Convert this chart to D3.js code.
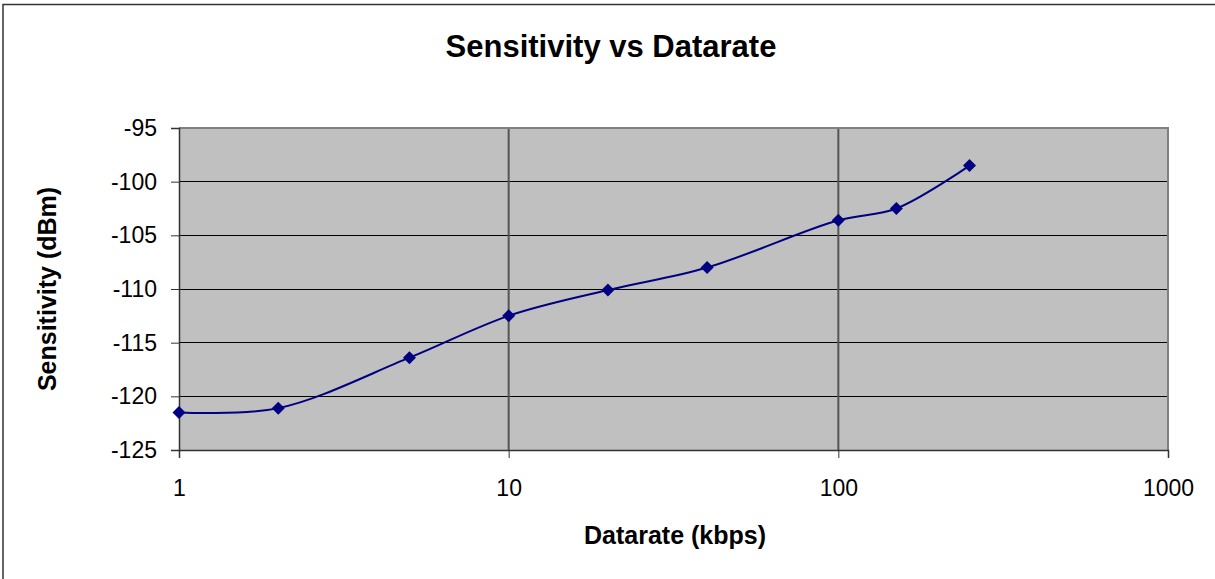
<!DOCTYPE html>
<html lang="en">
<head>
  <meta charset="utf-8">
  <title>Sensitivity vs Datarate</title>
  <script src="https://d3js.org/d3.v7.min.js"></script>
  <style>
    body { margin: 0; background: #fff; }
    svg text { font-family: "Liberation Sans", Arial, sans-serif; fill: #000; }
  </style>
</head>
<body>
  <script>
    // Data
    const datarates = [1, 2, 5, 10, 20, 40, 100, 150, 250];
    const sensitivity = [-121.5, -121.1, -116.4, -112.5, -110.1, -108.0, -103.6, -102.5, -98.5];
    const xTicks = [1, 10, 100, 1000];
    const yTicks = [-95, -100, -105, -110, -115, -120, -125];

    const W = 1215, H = 579;
    const plot = { left: 179, top: 128, right: 1168, bottom: 450 };

    const svg = d3.select("body").append("svg")
      .attr("width", W)
      .attr("height", H);

    // outer frame (only top/left visible in the picture)
    svg.append("path")
      .attr("d", `M3,${H} V4.5 H${W}`)
      .attr("fill", "none")
      .attr("stroke", "#333")
      .attr("stroke-width", 1.5);

    var x = d3.scaleLog()
      .domain([1, 1000])
      .range([plot.left, plot.right]);
    var y = d3.scaleLinear()
      .domain([-125, -95])
      .range([plot.bottom, plot.top]);

    // plot background
    svg.append("rect")
      .attr("x", plot.left)
      .attr("y", plot.top)
      .attr("width", plot.right - plot.left)
      .attr("height", plot.bottom - plot.top)
      .attr("fill", "#c0c0c0");

    // horizontal gridlines
    svg.selectAll(".hgrid")
      .data(yTicks.filter(d => d !== -95 && d !== -125))
      .enter().append("line")
      .attr("x1", plot.left).attr("x2", plot.right)
      .attr("y1", d => y(d)).attr("y2", d => y(d))
      .attr("stroke", "#000")
      .attr("stroke-width", 1)
      .attr("shape-rendering", "crispEdges");

    // vertical gridlines
    svg.selectAll(".vgrid")
      .data([10, 100])
      .enter().append("line")
      .attr("x1", d => x(d)).attr("x2", d => x(d))
      .attr("y1", plot.top).attr("y2", plot.bottom)
      .attr("stroke", "#555")
      .attr("stroke-width", 2);

    // plot border (top and right gray)
    svg.append("path")
      .attr("d", `M${plot.left},${plot.top} H${plot.right} V${plot.bottom}`)
      .attr("fill", "none")
      .attr("stroke", "#808080")
      .attr("stroke-width", 2);

    // Y axis
    var yAxis = svg.append("g")
      .attr("transform", `translate(${plot.left},0)`)
      .call(d3.axisLeft(y).tickValues(yTicks).tickSize(8).tickPadding(14).tickFormat(d => String(d)));
    yAxis.select(".domain").attr("stroke", "#333").attr("stroke-width", 1.5);
    yAxis.selectAll(".tick line").attr("stroke", "#333");
    yAxis.selectAll("text")
      .attr("font-size", 23)
      .attr("font-family", "Liberation Sans, Arial, sans-serif")
      .attr("fill", "#000");

    // X axis
    var xAxis = svg.append("g")
      .attr("transform", `translate(0,${plot.bottom})`)
      .call(d3.axisBottom(x).tickValues(xTicks).tickSize(8).tickPadding(22).tickFormat(d => String(d)));
    xAxis.select(".domain").attr("stroke", "#333").attr("stroke-width", 1.5);
    xAxis.selectAll(".tick line").attr("stroke", "#333");
    xAxis.selectAll("text")
      .attr("font-size", 23)
      .attr("font-family", "Liberation Sans, Arial, sans-serif")
      .attr("fill", "#000");

    // data line
    const pts = datarates.map((d, i) => ({ X: d, Y: sensitivity[i] }));
    var line = d3.line()
      .x(d => x(d.X))
      .y(d => y(d.Y))
      .curve(d3.curveCatmullRom.alpha(0.5));
    svg.append("path")
      .datum(pts)
      .attr("d", line)
      .attr("fill", "none")
      .attr("stroke", "#000080")
      .attr("stroke-width", 2);

    // diamond markers
    svg.selectAll(".marker")
      .data(pts)
      .enter().append("path")
      .attr("transform", d => `translate(${x(d.X)},${y(d.Y)})`)
      .attr("d", "M0,-6.5 L6.5,0 L0,6.5 L-6.5,0 Z")
      .attr("fill", "#000080");

    // titles
    svg.append("text")
      .attr("x", 611).attr("y", 57)
      .attr("text-anchor", "middle")
      .attr("font-size", 31)
      .attr("font-weight", "bold")
      .text("Sensitivity vs Datarate");

    svg.append("text")
      .attr("x", 675).attr("y", 544)
      .attr("text-anchor", "middle")
      .attr("font-size", 25)
      .attr("font-weight", "bold")
      .text("Datarate (kbps)");

    svg.append("text")
      .attr("transform", `translate(56,${(plot.top + plot.bottom) / 2}) rotate(-90)`)
      .attr("text-anchor", "middle")
      .attr("font-size", 25)
      .attr("font-weight", "bold")
      .text("Sensitivity (dBm)");
  </script>
</body>
</html>
